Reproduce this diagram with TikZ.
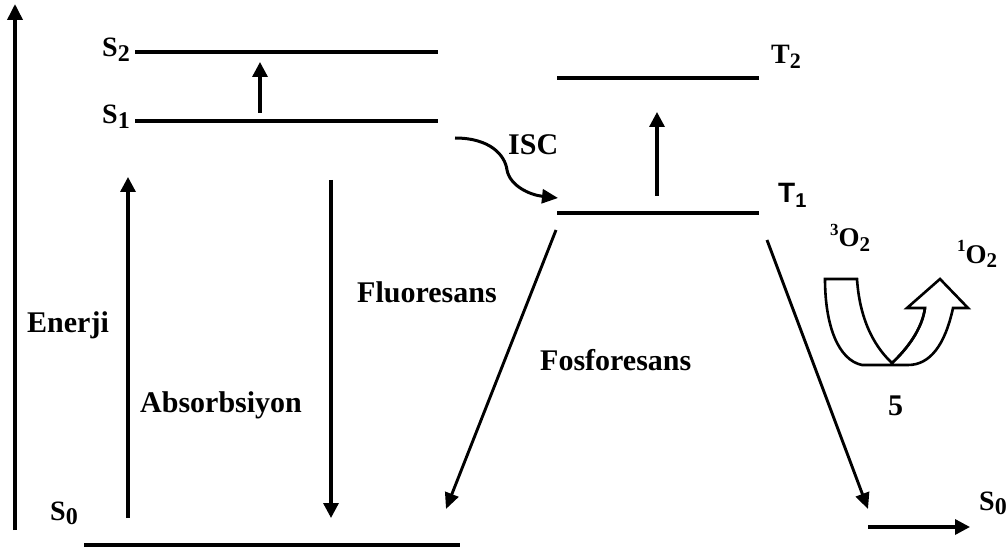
\documentclass[tikz,border=0pt]{standalone}
\usepackage{fontspec}
\setmainfont{Liberation Serif}
\setsansfont{Liberation Sans}
\usetikzlibrary{arrows.meta}
\newcommand{\sbs}[2]{\raisebox{-0.16em}{\fontsize{#1}{#1}\selectfont #2}}
\newcommand{\sps}[2]{\raisebox{0.42em}{\fontsize{#1}{#1}\selectfont #2}}
\begin{document}
\begin{tikzpicture}[x=1pt,y=-1pt,
  level/.style={line width=4pt},
  arr/.style={line width=3.3pt,-{Triangle[length=15pt,width=15pt]}},
  darr/.style={line width=2.9pt,-{Triangle[length=16pt,width=14pt]}},
  lbl/.style={font=\fontsize{30}{32}\selectfont\bfseries,inner sep=0pt,anchor=base west},
  slbl/.style={font=\fontsize{28}{30}\selectfont\bfseries,inner sep=0pt,anchor=base west},
  tlbl/.style={font=\fontsize{28}{30}\selectfont\sffamily\bfseries,inner sep=0pt,anchor=base west},
  olbl/.style={font=\fontsize{27}{29}\selectfont\bfseries,inner sep=0pt,anchor=base west},
  hollow/.style={line width=2.6pt,line join=miter,fill=white}]
\useasboundingbox (0,0) rectangle (1008,553);
% coordinates
\coordinate (ax0) at (15,530);
\coordinate (ax1) at (15,4);
\coordinate (s2a) at (135,52);  \coordinate (s2b) at (438,52);
\coordinate (s1a) at (135,121); \coordinate (s1b) at (438,121);
\coordinate (s0a) at (84,545);  \coordinate (s0b) at (460,545);
\coordinate (t2a) at (557,78);  \coordinate (t2b) at (759,78);
\coordinate (t1a) at (557,213); \coordinate (t1b) at (759,213);
\coordinate (e12a) at (260,113); \coordinate (e12b) at (260,62);
\coordinate (absa) at (128,518); \coordinate (absb) at (128,177);
\coordinate (flua) at (331,180); \coordinate (flub) at (331,518);
\coordinate (t12a) at (657,196); \coordinate (t12b) at (657,112);
\coordinate (isca) at (455,138); \coordinate (iscb) at (558,198);
\coordinate (fosa) at (556,230); \coordinate (fosb) at (446,509);
\coordinate (ra) at (767,240);  \coordinate (rb) at (868,509);
\coordinate (ha) at (868,527);  \coordinate (hb) at (970,527);
% axis
\draw[line width=3.6pt,-{Triangle[length=16pt,width=15pt]}] (ax0) -- (ax1);
% levels
\draw[level] (s2a) -- (s2b);
\draw[level] (s1a) -- (s1b);
\draw[level] (s0a) -- (s0b);
\draw[level] (t2a) -- (t2b);
\draw[level] (t1a) -- (t1b);
% transitions
\draw[arr] (e12a) -- (e12b);
\draw[arr] (absa) -- (absb);
\draw[arr] (flua) -- (flub);
\draw[arr] (t12a) -- (t12b);
\draw[darr] (fosa) -- (fosb);
\draw[darr] (ra) -- (rb);
\draw[arr] (ha) -- (hb);
\draw[line width=3pt,-{Triangle[length=16pt,width=14pt]}] (isca) .. controls (490,138) and (505,155) .. (507,170) .. controls (510,186) and (530,195) .. (iscb);
% hollow U arrow
\draw[hollow] (825,279) -- (857,279) .. controls (860,325) and (878,350) .. (892,363)
  .. controls (906,350) and (922,330) .. (925,308) -- (907,308) -- (940,279) -- (968,308) -- (953,308)
  .. controls (945,345) and (930,365) .. (908,365) -- (862,365)
  .. controls (838,360) and (825,325) .. (825,279) -- cycle;
\draw[line width=2.6pt] (892,363) .. controls (906,350) and (922,330) .. (925,308);
% labels
\node[slbl] (ls2) at (102,57) {S\sbs{24}{2}};
\node[slbl] (ls1) at (102,124) {S\sbs{24}{1}};
\node[slbl] (ls0) at (50,520) {S\sbs{24}{0}};
\node[slbl] (lt2) at (771,64) {T\sbs{22}{2}};
\node[tlbl] (lt1) at (778,203) {T\sbs{20}{\sffamily 1}};
\node[slbl] (ls0r) at (979,510) {S\sbs{24}{0}};
\node[lbl] (lisc) at (508,155) {ISC};
\node[lbl] (len) at (27,332) {Enerji};
\node[lbl] (labs) at (140,412) {Absorbsiyon};
\node[lbl] (lflu) at (357,302) {Fluoresans};
\node[lbl] (lfos) at (540,370) {Fosforesans};
\node[olbl] (l3o) at (830,247) {\sps{17}{3}O\sbs{21}{2}};
\node[olbl] (l1o) at (957,263) {\sps{17}{1}O\sbs{21}{2}};
\node[lbl] (l5) at (888,415) {5};
\end{tikzpicture}
\end{document}
